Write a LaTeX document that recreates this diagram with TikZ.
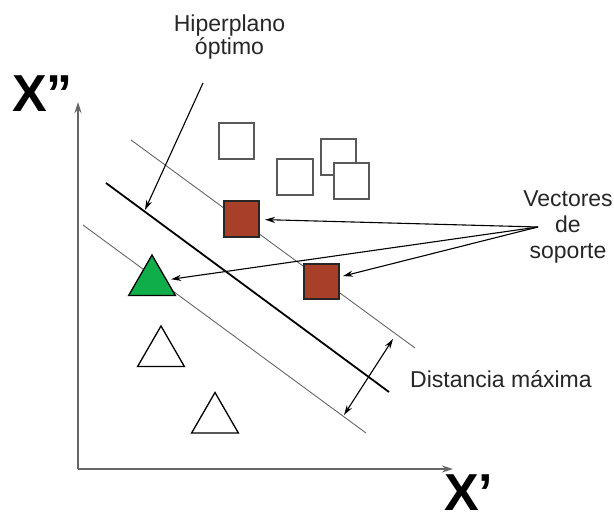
\documentclass[tikz,border=0pt]{standalone}
\usepackage{fontspec}
\setmainfont{Liberation Sans}
\usetikzlibrary{arrows.meta,shapes.geometric}
\definecolor{svred}{HTML}{A83F28}
\definecolor{svgreen}{HTML}{10AD4B}

\begin{document}
\begin{tikzpicture}[x=1pt,y=-1pt,
  sq/.style={draw=black!65,line width=1.6pt,fill=white,minimum size=35.5pt,inner sep=0pt},
  supsq/.style={sq,draw=black!85,fill=svred},
  tri/.style={regular polygon,regular polygon sides=3,draw=black,line width=1.3pt,fill=white,minimum size=54pt,inner sep=0pt},
  lbl/.style={font=\fontsize{23}{26}\selectfont,text=black!85,inner sep=0pt},
  axlbl/.style={font=\fontsize{52}{52}\selectfont\bfseries,inner sep=0pt,anchor=base west},
  ax/.style={draw=black!60,line width=2pt,-{Stealth[length=11pt,width=7pt]}},
  ptr/.style={line width=1.1pt,-{Stealth[length=10pt,width=6pt]}}]
\useasboundingbox (0,0) rectangle (614,521);
% axes
\coordinate (o) at (78,469);
\coordinate (ytop) at (78,102);
\coordinate (xend) at (453,469);
\draw[ax] (o) -- (ytop);
\draw[ax] (o) -- (xend);
\node[axlbl] (ylab) at (12,112) {X”};
\node[axlbl] (xlab) at (444,511) {X’};
% margins and optimal hyperplane
\draw[black!60,line width=0.9pt] (131,140) -- (415,348);
\draw[black,line width=1.8pt] (106,183) -- (389,392);
\draw[black!60,line width=0.9pt] (83,225) -- (366,433);
% class one
\node[sq] (w1) at (236.5,141) {};
\node[sq] (w2) at (295,177) {};
\node[sq] (w3) at (338.5,157) {};
\node[sq] (w4) at (351.5,181) {};
\node[supsq] (r1) at (241.5,219) {};
\node[supsq] (r2) at (321.5,281.5) {};
% class two
\node[tri,fill=svgreen] (g1) at (152,282) {};
\node[tri] (t1) at (161,353) {};
\node[tri] (t2) at (215,419.5) {};
% labels
\node[lbl,align=center,font=\fontsize{23}{23}\selectfont] (hip) at (229.5,37.5) {Hiperplano\\óptimo};
\node[lbl,align=center] (vec) at (568,227) {Vectores\\de\\soporte};
\node[lbl,anchor=base west] (dist) at (410,388) {Distancia máxima};
% pointers
\coordinate (hipa) at (203,83);
\coordinate (hipb) at (145,210);
\draw[ptr] (hipa) -- (hipb);
\coordinate (vs) at (538,227);
\draw[ptr,shorten >=5pt] (vs) -- (r1);
\draw[ptr,shorten >=3pt] (vs) -- (r2);
\draw[ptr,shorten >=4pt] (vs) -- (g1);
\coordinate (d1) at (393,339);
\coordinate (d2) at (344,415);
\draw[ptr,{Stealth[length=10pt,width=6pt]}-{Stealth[length=10pt,width=6pt]}] (d1) -- (d2);
\end{tikzpicture}
\end{document}
